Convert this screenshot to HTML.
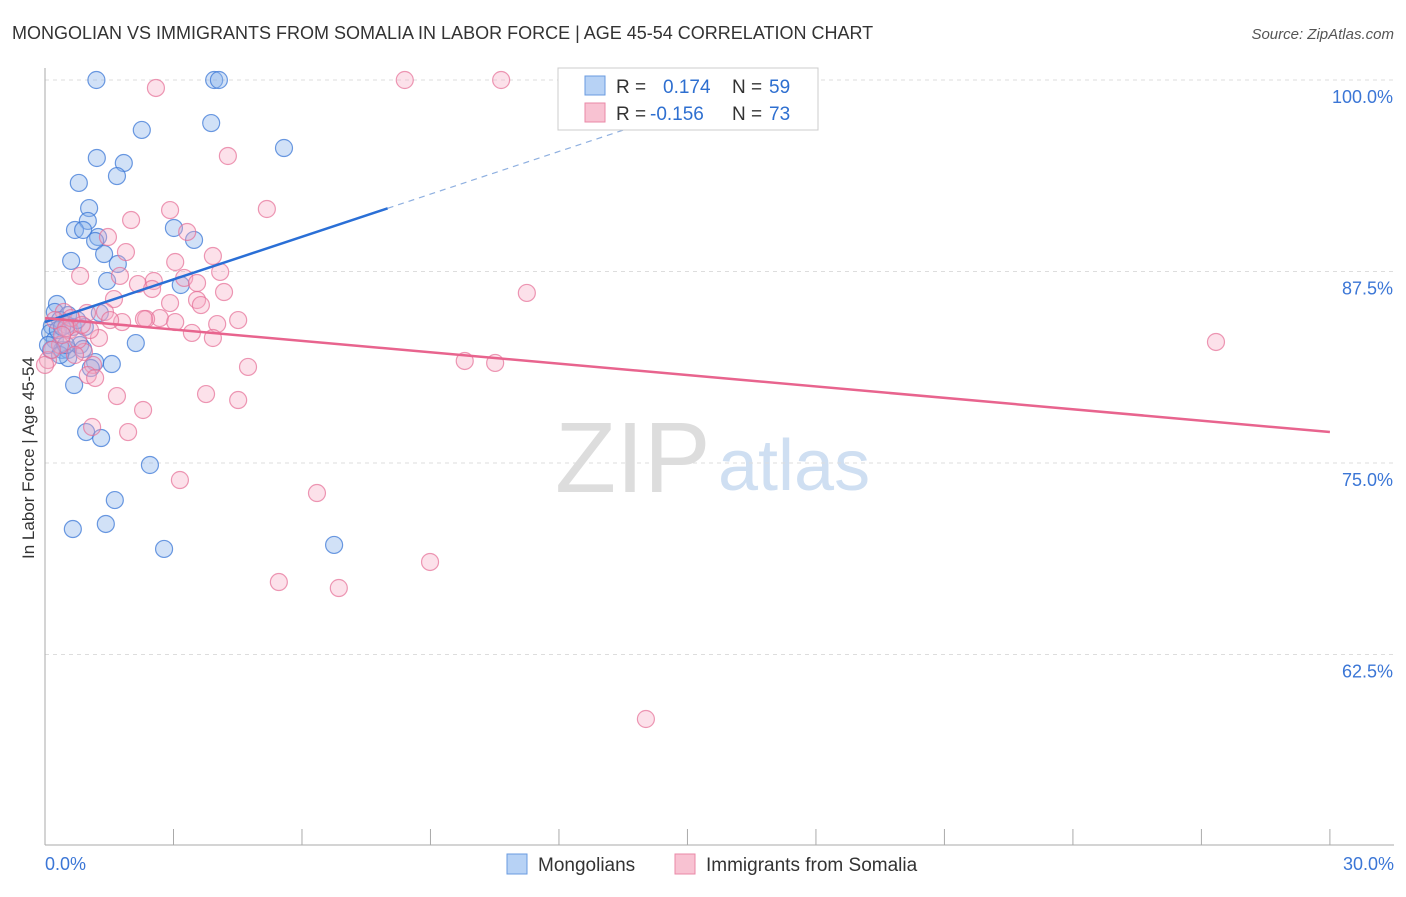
<!DOCTYPE html>
<html><head><meta charset="utf-8"><style>
body{margin:0;background:#fff;font-family:"Liberation Sans",sans-serif;}
svg text{font-family:"Liberation Sans",sans-serif;}
</style></head><body>
<svg id="c" width="1406" height="892">
<text x="12" y="39" font-size="18" fill="#333">MONGOLIAN VS IMMIGRANTS FROM SOMALIA IN LABOR FORCE | AGE 45-54 CORRELATION CHART</text>
<text x="1394" y="39" font-size="15" fill="#555" font-style="italic" text-anchor="end">Source: ZipAtlas.com</text>
<text transform="translate(34,458) rotate(-90)" font-size="17" fill="#333" text-anchor="middle">In Labor Force | Age 45-54</text>
<text x="555" y="492" font-size="100" fill="#ddd" font-family="Liberation Serif">ZIP</text>
<text x="718" y="490" font-size="72" fill="#cfdff2">atlas</text>
<g id="grid"></g><g id="pts"></g><g id="lines"></g>
<g>
<rect x="558" y="68" width="260" height="62" fill="#fff" stroke="#ccc"/>
<rect x="585" y="76" width="20" height="19" fill="#b7d2f5" stroke="#6a9be0"/>
<rect x="585" y="103" width="20" height="19" fill="#f8c2d2" stroke="#ea88a7"/>
<text x="616" y="93" font-size="19" fill="#333">R =</text><text x="663" y="93" font-size="19" fill="#2e6fd0">0.174</text>
<text x="732" y="93" font-size="19" fill="#333">N =</text><text x="769" y="93" font-size="19" fill="#2e6fd0">59</text>
<text x="616" y="120" font-size="19" fill="#333">R =</text><text x="650" y="120" font-size="19" fill="#2e6fd0">-0.156</text>
<text x="732" y="120" font-size="19" fill="#333">N =</text><text x="769" y="120" font-size="19" fill="#2e6fd0">73</text>
</g>
<g>
<rect x="507" y="854" width="20" height="20" fill="#b7d2f5" stroke="#6a9be0"/>
<text x="538" y="871" font-size="19" fill="#333">Mongolians</text>
<rect x="675" y="854" width="20" height="20" fill="#f8c2d2" stroke="#ea88a7"/>
<text x="706" y="871" font-size="19" fill="#333">Immigrants from Somalia</text>
</g>
</svg>
<script>
const yTicks=[100,87.5,75,62.5];
const yTickLabels=["100.0%","87.5%","75.0%","62.5%"];
const xTickLabels=["0.0%","30.0%"];
const blueX=[1.2,3.95,4.06,2.26,3.88,5.58,1.21,1.84,1.68,0.79,1.03,1.0,0.70,0.89,1.24,1.17,3.01,3.48,1.38,0.61,1.70,1.45,3.17,0.28,1.28,0.23,0.54,0.35,0.16,0.65,0.93,0.12,0.23,2.12,0.82,0.14,0.40,0.54,0.89,1.17,1.56,1.07,0.54,0.68,0.96,1.31,2.45,1.63,0.65,1.42,2.78,6.75,0.51,0.30,0.40,0.07,0.75,0.35,0.49];
const blueY=[100,100,100,96.74,97.19,95.56,94.91,94.58,93.73,93.28,91.64,90.80,90.21,90.21,89.75,89.49,90.34,89.56,88.64,88.19,87.99,86.88,86.62,85.38,84.79,84.86,84.66,84.33,83.94,83.88,83.88,83.49,83.03,82.83,82.70,82.38,82.38,82.38,82.44,81.59,81.46,81.20,81.85,80.09,77.02,76.63,74.87,72.58,70.69,71.02,69.39,69.65,84.01,83.68,83.88,82.70,84.33,82.05,82.70];
const pinkX=[2.59,8.4,10.65,4.27,5.18,2.92,2.01,3.32,1.47,1.89,3.92,0.82,1.75,3.04,4.09,2.17,2.54,3.25,3.55,2.5,4.18,1.61,3.55,3.64,2.92,1.4,2.68,2.36,2.31,3.04,1.8,4.02,4.51,3.43,3.92,1.26,0.58,0.44,0.61,0.98,0.07,0.91,1.12,1.0,1.17,4.74,9.8,10.51,11.25,27.34,1.68,2.29,3.76,4.51,1.1,1.94,3.15,6.35,5.46,6.86,8.99,14.03,0.35,0.77,0.23,0.49,0.16,0.70,0,1.05,0.40,1.52,0.86];
const pinkY=[99.48,100,100,95.04,91.58,91.51,90.86,90.08,89.75,88.77,88.51,87.21,87.21,88.12,87.47,86.68,86.88,87.08,86.75,86.36,86.16,85.70,85.64,85.31,85.44,84.86,84.46,84.40,84.40,84.20,84.20,84.07,84.33,83.49,83.16,83.16,83.68,84.86,84.46,84.79,81.72,82.25,81.40,80.74,80.55,81.27,81.66,81.53,86.10,82.90,79.37,78.46,79.50,79.11,77.35,77.02,73.89,73.04,67.23,66.84,68.54,58.29,82.70,83.03,84.33,83.81,82.38,82.05,81.40,83.68,83.36,84.33,84.01];
const blueLine=[84.2,0.928];
const pinkLine=[84.46,-0.248];
const X=v=>45+v*42.83, Y=v=>80+(100-v)*15.32;
const NS="http://www.w3.org/2000/svg";
function mk(t,a,p){const e=document.createElementNS(NS,t);for(const k in a)e.setAttribute(k,a[k]);p.appendChild(e);return e;}
const g=document.getElementById('grid');
yTicks.forEach((t,i)=>{
 const l=mk('line',{x1:45,x2:1394,y1:Y(t),y2:Y(t),stroke:'#ddd','stroke-dasharray':'4,4'},g);
 
 
 const tx=mk('text',{x:1393,y:Y(t)+23,'font-size':18,fill:'#3b76d6','text-anchor':'end'},g);tx.textContent=yTickLabels[i];
 
 
});
mk('line',{x1:45,x2:45,y1:68,y2:845,stroke:'#aaa'},g);
mk('line',{x1:45,x2:1394,y1:845,y2:845,stroke:'#aaa'},g);
for(let i=1;i<=10;i++){const xx=X(i*3);mk('line',{x1:xx,x2:xx,y1:829,y2:845,stroke:'#aaa'},g);}
[[0,'start',45],[30,'end',1394]].forEach((d,i)=>{const t=mk('text',{x:d[2],y:870,'font-size':18,fill:'#3b76d6','text-anchor':d[1]},g);t.textContent=xTickLabels[i];
 
 });
const P=document.getElementById('pts');
blueX.forEach((v,i)=>{const c=mk('circle',{cx:X(v),cy:Y(blueY[i]),r:8.5,fill:'rgba(140,180,235,0.4)',stroke:'rgba(60,120,215,0.75)','stroke-width':1.2},P);
 
 });
pinkX.forEach((v,i)=>{const c=mk('circle',{cx:X(v),cy:Y(pinkY[i]),r:8.5,fill:'rgba(245,170,195,0.35)',stroke:'rgba(230,110,150,0.7)','stroke-width':1.2},P);
 
 });
const L=document.getElementById('lines');
const bl=mk('line',{x1:X(0),y1:Y(blueLine[0]),x2:X(8),y2:Y(blueLine[0]+8*blueLine[1]),stroke:'#2a6fd6','stroke-width':2.5},L);


const bd=mk('line',{x1:X(8),y1:Y(blueLine[0]+8*blueLine[1]),x2:X(15.7),y2:Y(blueLine[0]+15.7*blueLine[1]),stroke:'#8fb0e0','stroke-width':1.2,'stroke-dasharray':'6,5'},L);


const pl=mk('line',{x1:X(0),y1:Y(pinkLine[0]),x2:X(30),y2:Y(pinkLine[0]+30*pinkLine[1]),stroke:'#e8648e','stroke-width':2.5},L);


</script>
</body></html>
